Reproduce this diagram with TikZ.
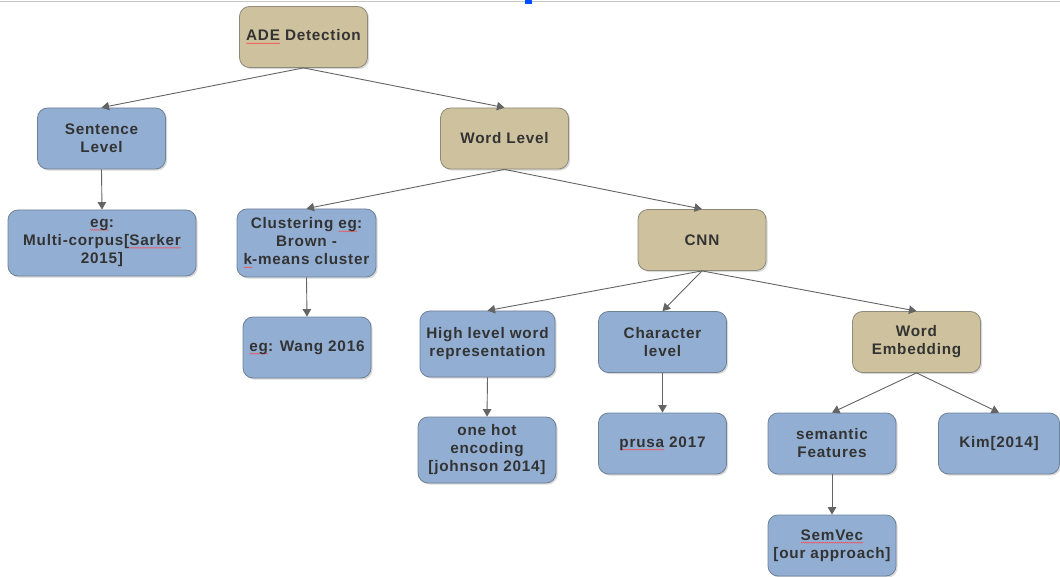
\documentclass[tikz,border=0pt]{standalone}
\usepackage{fontspec}
\setmainfont{Liberation Sans}
\usetikzlibrary{arrows.meta,shadows,decorations.pathmorphing}

\definecolor{tanfill}{HTML}{CEC29E}
\definecolor{tanline}{HTML}{8E8A7A}
\definecolor{bluefill}{HTML}{92AFD3}
\definecolor{blueline}{HTML}{6F8196}
\definecolor{labeltext}{HTML}{333333}
\definecolor{linkgray}{HTML}{646464}

% red wavy mark under a word (drawn without an inner node)
\newsavebox\wavybox
\newcommand\wavymark[1]{\sbox\wavybox{#1}%
  \rlap{\tikz[baseline=0pt]\draw[red!75,line width=0.35pt,sharp corners,
        decorate,decoration={zigzag,amplitude=0.55pt,segment length=2pt}]
    (0pt,-2.4pt) -- (\wd\wavybox,-2.4pt);}\usebox\wavybox}

\tikzset{
  card/.style={rounded corners=10pt, line width=0.8pt,
    minimum width=128pt, minimum height=61pt, inner sep=2pt,
    align=center, text=labeltext,
    font=\fontsize{15.3}{18}\selectfont\bfseries\addfontfeatures{LetterSpace=5},
    drop shadow={shadow xshift=1.6pt, shadow yshift=-1.6pt, opacity=0.3}},
  tancard/.style={card, draw=tanline, fill=tanfill},
  bluecard/.style={card, draw=blueline, fill=bluefill},
  link/.style={draw=linkgray, line width=0.9pt,
    -{Triangle[length=7.5pt,width=8.5pt]}}
}

\begin{document}
\begin{tikzpicture}[x=1pt,y=-1pt]
\useasboundingbox (0,0) rectangle (1060,577);

% page edge and cursor mark
\draw[gray!45, line width=1pt] (0,2) -- (1060,2);
\fill[blue!70!cyan] (525,0) rectangle (532,4);

% root
\node[tancard] (ade) at (303.5,37) {\wavymark{ADE} Detection};

% first level
\node[bluecard] (sent) at (101.5,138.5) {Sentence\\Level};
\node[tancard]  (word) at (504.5,138.5) {Word Level};

% second level
\node[bluecard, minimum width=188pt, minimum height=66pt] (multi) at (102,243)
  {\wavymark{eg}:\\Multi-corpus[\wavymark{Sarker}\\2015]};
\node[bluecard, minimum width=139pt, minimum height=68pt] (clust) at (306.5,243)
  {Clustering \wavymark{eg}:\\Brown -\\\wavymark{k}-means cluster};
\node[tancard] (cnn) at (702,240) {CNN};

% third level
\node[bluecard] (wang) at (307,347.5) {\wavymark{eg}: Wang 2016};
\node[bluecard, minimum width=135pt, minimum height=66pt] (high) at (487.5,344)
  {High level word\\representation};
\node[bluecard] (char) at (662.5,342) {Character\\level};
\node[tancard] (emb) at (916.5,342) {Word\\Embedding};

% fourth level
\node[bluecard, minimum width=138pt, minimum height=66pt] (onehot) at (487,450)
  {one hot\\encoding\\{}[johnson 2014]};
\node[bluecard] (prusa) at (662.5,443.5) {\wavymark{prusa} 2017};
\node[bluecard] (sem) at (832,443.5) {semantic\\Features};
\node[bluecard, minimum width=121pt] (kim) at (999,443.5) {Kim[2014]};

% fifth level
\node[bluecard] (semvec) at (832,545.5) {\wavymark{SemVec}\\{}[our approach]};

% connectors
\draw[link] (ade.south) -- (sent.north);
\draw[link] (ade.south) -- (word.north);
\draw[link] (sent.south) -- (multi.north);
\draw[link] (word.south) -- (clust.north);
\draw[link] (word.south) -- (cnn.north);
\draw[link] (clust.south) -- (wang.north);
\draw[link] (cnn.south) -- (high.north);
\draw[link] (cnn.south) -- (char.north);
\draw[link] (cnn.south) -- (emb.north);
\draw[link] (high.south) -- (onehot.north);
\draw[link] (char.south) -- (prusa.north);
\draw[link] (emb.south) -- (sem.north);
\draw[link] (emb.south) -- (kim.north);
\draw[link] (sem.south) -- (semvec.north);
\end{tikzpicture}
\end{document}
